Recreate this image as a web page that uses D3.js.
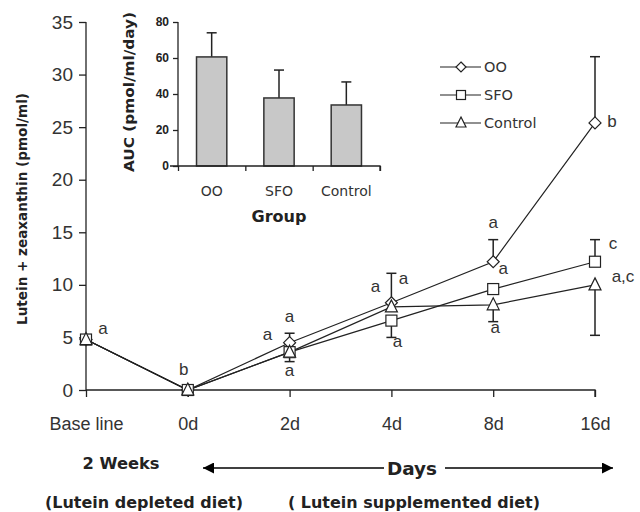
<!DOCTYPE html>
<html>
<head>
<meta charset="utf-8">
<script src="https://cdn.jsdelivr.net/npm/d3@7"></script>
<style>
  body { margin: 0; background: #fff; }
</style>
</head>
<body>
<div class="container"></div>
<script>
// main chart data
var days = ["Base line", "0d", "2d", "4d", "8d", "16d"];
var ooVals = [4.8, 0, 4.5, 8.3, 12.2, 25.4];
var sfoVals = [4.8, 0, 3.6, 6.6, 9.6, 12.2];
var ctrlVals = [4.8, 0, 3.6, 7.9, 8.1, 10.0];
// error bars (signed: + goes up, - goes down)
var ooErr = [0, 0, 0.9, 2.8, 2.1, 6.3];
var sfoErr = [0, 0, 0, -1.6, 0, 2.1];
var ctrlErr = [0, 0, -0.9, 0, -1.6, -4.8];
var yTicks = [0, 5, 10, 15, 20, 25, 30, 35];

// significance letters: day, value, text, x offset
var letters = [
  ["Base line", 5.3, "a", 17],
  ["0d", 1.4, "b", -4],
  ["2d", 6.5, "a", 0],
  ["2d", 4.8, "a", -22],
  ["2d", 1.3, "a", 0],
  ["4d", 9.3, "a", -16],
  ["4d", 10.1, "a", 12],
  ["4d", 4.1, "a", 6],
  ["8d", 15.4, "a", 0],
  ["8d", 11.0, "a", 10],
  ["8d", 5.4, "a", 2],
  ["16d", 25.0, "b", 17],
  ["16d", 13.4, "c", 18],
  ["16d", 10.3, "a,c", 28]
];

// inset data
var groups = ["OO", "SFO", "Control"];
var aucVals = [60.6, 37.8, 33.9];
var aucErr = [13.4, 15.5, 12.8];
var aucTicks = [0, 20, 40, 60, 80];

var svg = d3.select('.container')
    .append('svg').attr('width', 640).attr('height', 512)
    .attr('font-family', 'Arial, sans-serif')
    .style('background', '#fff');

var x = d3.scalePoint().domain(days).range([86, 595]);
var y = d3.scaleLinear().domain([0, 35]).range([390, 22]);
var ink = "#222";
var wide = "DejaVu Sans";

// axes
var yAxis = svg.append('g').attr('transform', 'translate(86,0)')
  .call(d3.axisLeft(y).tickValues(yTicks).tickSize(7).tickPadding(6));
yAxis.select('.domain').attr('d', 'M0,' + y(35) + 'V' + y(0)).attr('stroke', ink).attr('stroke-width', 1.3);
yAxis.selectAll('.tick line').attr('stroke', ink).attr('stroke-width', 1.3);
yAxis.selectAll('.tick text').attr('font-size', 19).attr('fill', '#333')
  .attr('font-family', 'Arial, sans-serif');

var xAxis = svg.append('g').attr('transform', 'translate(0,390)')
  .call(d3.axisBottom(x).tickSize(7).tickPadding(20));
xAxis.select('.domain').attr('d', 'M86,0H595V7').attr('stroke', ink).attr('stroke-width', 1.3);
xAxis.selectAll('.tick line').attr('stroke', ink).attr('stroke-width', 1.3);
xAxis.selectAll('.tick text').attr('font-size', 18).attr('fill', '#333')
  .attr('font-family', 'Arial, sans-serif');

svg.append('text')
  .attr('transform', 'translate(27,209) rotate(-90)')
  .attr('text-anchor', 'middle').attr('font-weight', 'bold').attr('font-size', 14)
  .attr('font-family', wide).attr('textLength', 232).attr('lengthAdjust', 'spacingAndGlyphs')
  .attr('fill', ink).text('Lutein + zeaxanthin (pmol/ml)');

// series
var series = [
  {name: "OO", vals: ooVals, err: ooErr, shape: "diamond"},
  {name: "SFO", vals: sfoVals, err: sfoErr, shape: "square"},
  {name: "Control", vals: ctrlVals, err: ctrlErr, shape: "triangle"}
];

var line = d3.line().x(function(d, i) { return x(days[i]); }).y(function(d) { return y(d); });

var marker = function(g, shape, cx, cy, r) {
  if (shape === "diamond") {
    g.append('path').attr('d', 'M' + cx + ',' + (cy - r) + 'L' + (cx + r) + ',' + cy + 'L' + cx + ',' + (cy + r) + 'L' + (cx - r) + ',' + cy + 'Z');
  } else if (shape === "square") {
    g.append('rect').attr('x', cx - r + 0.5).attr('y', cy - r + 0.5).attr('width', 2 * r - 1).attr('height', 2 * r - 1);
  } else {
    g.append('path').attr('d', 'M' + cx + ',' + (cy - r - 1) + 'L' + (cx + r) + ',' + (cy + r - 1) + 'L' + (cx - r) + ',' + (cy + r - 1) + 'Z');
  }
};

series.forEach(function(s) {
  svg.append('path').datum(s.vals).attr('d', line)
    .attr('fill', 'none').attr('stroke', ink).attr('stroke-width', 1.2);
});

series.forEach(function(s) {
  s.err.forEach(function(e, i) {
    if (!e) return;
    var cx = x(days[i]);
    svg.append('line').attr('x1', cx).attr('x2', cx)
      .attr('y1', y(s.vals[i])).attr('y2', y(s.vals[i] + e))
      .attr('stroke', ink).attr('stroke-width', 1.5);
    svg.append('line').attr('x1', cx - 5).attr('x2', cx + 5)
      .attr('y1', y(s.vals[i] + e)).attr('y2', y(s.vals[i] + e))
      .attr('stroke', ink).attr('stroke-width', 1.5);
  });
});

series.forEach(function(s) {
  var g = svg.append('g').attr('fill', '#fff').attr('stroke', ink).attr('stroke-width', 1.2);
  s.vals.forEach(function(v, i) { marker(g, s.shape, x(days[i]), y(v), 6); });
});

svg.selectAll('text.letter').data(letters).enter().append('text')
  .attr('class', 'letter')
  .attr('x', function(d) { return x(d[0]) + d[3]; })
  .attr('y', function(d) { return y(d[1]); })
  .attr('text-anchor', 'middle')
  .attr('font-size', 17).attr('fill', '#333')
  .text(function(d) { return d[2]; });

// legend
var legend = svg.append('g');
series.forEach(function(s, i) {
  var ly = 67 + i * 28;
  legend.append('line').attr('x1', 440).attr('x2', 481).attr('y1', ly).attr('y2', ly)
    .attr('stroke', ink).attr('stroke-width', 1.2);
  var g = legend.append('g').attr('fill', '#fff').attr('stroke', ink).attr('stroke-width', 1.2);
  marker(g, s.shape, 461, ly, 5);
  legend.append('text').attr('x', 484).attr('y', ly + 5).attr('font-size', 14.5)
    .attr('font-family', wide).attr('fill', '#333').text(s.name);
});

// bottom annotations
svg.append('defs').append('marker').attr('id', 'ah')
  .attr('viewBox', '0 0 10 10').attr('refX', 10).attr('refY', 5)
  .attr('markerWidth', 14).attr('markerHeight', 11).attr('markerUnits', 'userSpaceOnUse')
  .attr('orient', 'auto-start-reverse')
  .append('path').attr('d', 'M0,0L10,5L0,10Z').attr('fill', '#000');

svg.append('line').attr('x1', 203).attr('x2', 384).attr('y1', 468).attr('y2', 468)
  .attr('stroke', '#000').attr('stroke-width', 1.3).attr('marker-start', 'url(#ah)');
svg.append('line').attr('x1', 445).attr('x2', 613).attr('y1', 468).attr('y2', 468)
  .attr('stroke', '#000').attr('stroke-width', 1.3).attr('marker-end', 'url(#ah)');

var boldText = function(tx, ty, size, len, str) {
  svg.append('text').attr('x', tx).attr('y', ty).attr('text-anchor', 'middle')
    .attr('font-weight', 'bold').attr('font-size', size).attr('font-family', wide)
    .attr('textLength', len).attr('lengthAdjust', 'spacingAndGlyphs')
    .attr('fill', ink).text(str);
};
boldText(412, 475, 17, 50, 'Days');
boldText(121, 469, 15, 77, '2 Weeks');
boldText(144, 508, 15, 198, '(Lutein depleted diet)');
boldText(414, 508, 15, 252, '( Lutein supplemented diet)');

// inset bar chart
var bx = d3.scaleBand().domain(groups).range([178, 380]).paddingInner(0.55).paddingOuter(0.275);
var by = d3.scaleLinear().domain([0, 80]).range([166, 22]);

var inset = svg.append('g');
inset.selectAll('line.err').data(groups).enter().append('line')
  .attr('x1', function(d) { return bx(d) + bx.bandwidth() / 2; })
  .attr('x2', function(d) { return bx(d) + bx.bandwidth() / 2; })
  .attr('y1', function(d, i) { return by(aucVals[i]); })
  .attr('y2', function(d, i) { return by(aucVals[i] + aucErr[i]); })
  .attr('stroke', ink).attr('stroke-width', 1.5);
inset.selectAll('line.cap').data(groups).enter().append('line')
  .attr('x1', function(d) { return bx(d) + bx.bandwidth() / 2 - 5; })
  .attr('x2', function(d) { return bx(d) + bx.bandwidth() / 2 + 5; })
  .attr('y1', function(d, i) { return by(aucVals[i] + aucErr[i]); })
  .attr('y2', function(d, i) { return by(aucVals[i] + aucErr[i]); })
  .attr('stroke', ink).attr('stroke-width', 1.5);
inset.selectAll('rect').data(groups).enter().append('rect')
  .attr('x', function(d) { return bx(d); })
  .attr('y', function(d, i) { return by(aucVals[i]); })
  .attr('width', bx.bandwidth())
  .attr('height', function(d, i) { return by(0) - by(aucVals[i]); })
  .attr('fill', '#c8c8c8').attr('stroke', '#333').attr('stroke-width', 1.5);

var iy = inset.append('g').attr('transform', 'translate(178,0)')
  .call(d3.axisLeft(by).tickValues(aucTicks).tickSize(5).tickPadding(4));
iy.select('.domain').attr('d', 'M0,' + by(80) + 'V' + by(0)).attr('stroke', ink).attr('stroke-width', 1.3);
iy.selectAll('.tick line').attr('stroke', ink).attr('stroke-width', 1.3);
iy.selectAll('.tick text').attr('font-size', 12).attr('font-weight', 'bold').attr('fill', ink)
  .attr('font-family', 'Arial, sans-serif');

var ixAxis = d3.axisBottom(d3.scaleLinear().domain([0, 3]).range([178, 380]))
  .tickValues([0, 1, 2, 3]).tickSize(5).tickFormat('');
var ix = inset.append('g').attr('transform', 'translate(0,166)').call(ixAxis);
ix.select('.domain').attr('d', 'M170,0H380V5').attr('stroke', ink).attr('stroke-width', 1.3);
ix.selectAll('.tick line').attr('stroke', ink).attr('stroke-width', 1.3);

inset.selectAll('text.grp').data(groups).enter().append('text')
  .attr('class', 'grp')
  .attr('x', function(d) { return bx(d) + bx.bandwidth() / 2; })
  .attr('y', 196).attr('text-anchor', 'middle')
  .attr('font-size', 14).attr('font-family', wide)
  .attr('fill', '#333').text(function(d) { return d; });

svg.append('text').attr('x', 279).attr('y', 222).attr('text-anchor', 'middle')
  .attr('font-weight', 'bold').attr('font-size', 15).attr('font-family', wide)
  .attr('textLength', 55).attr('lengthAdjust', 'spacingAndGlyphs')
  .attr('fill', ink).text('Group');
svg.append('text').attr('transform', 'translate(134,92) rotate(-90)')
  .attr('text-anchor', 'middle').attr('font-weight', 'bold').attr('font-size', 14)
  .attr('font-family', wide).attr('textLength', 160).attr('lengthAdjust', 'spacingAndGlyphs')
  .attr('fill', ink).text('AUC (pmol/ml/day)');
</script>
</body>
</html>
